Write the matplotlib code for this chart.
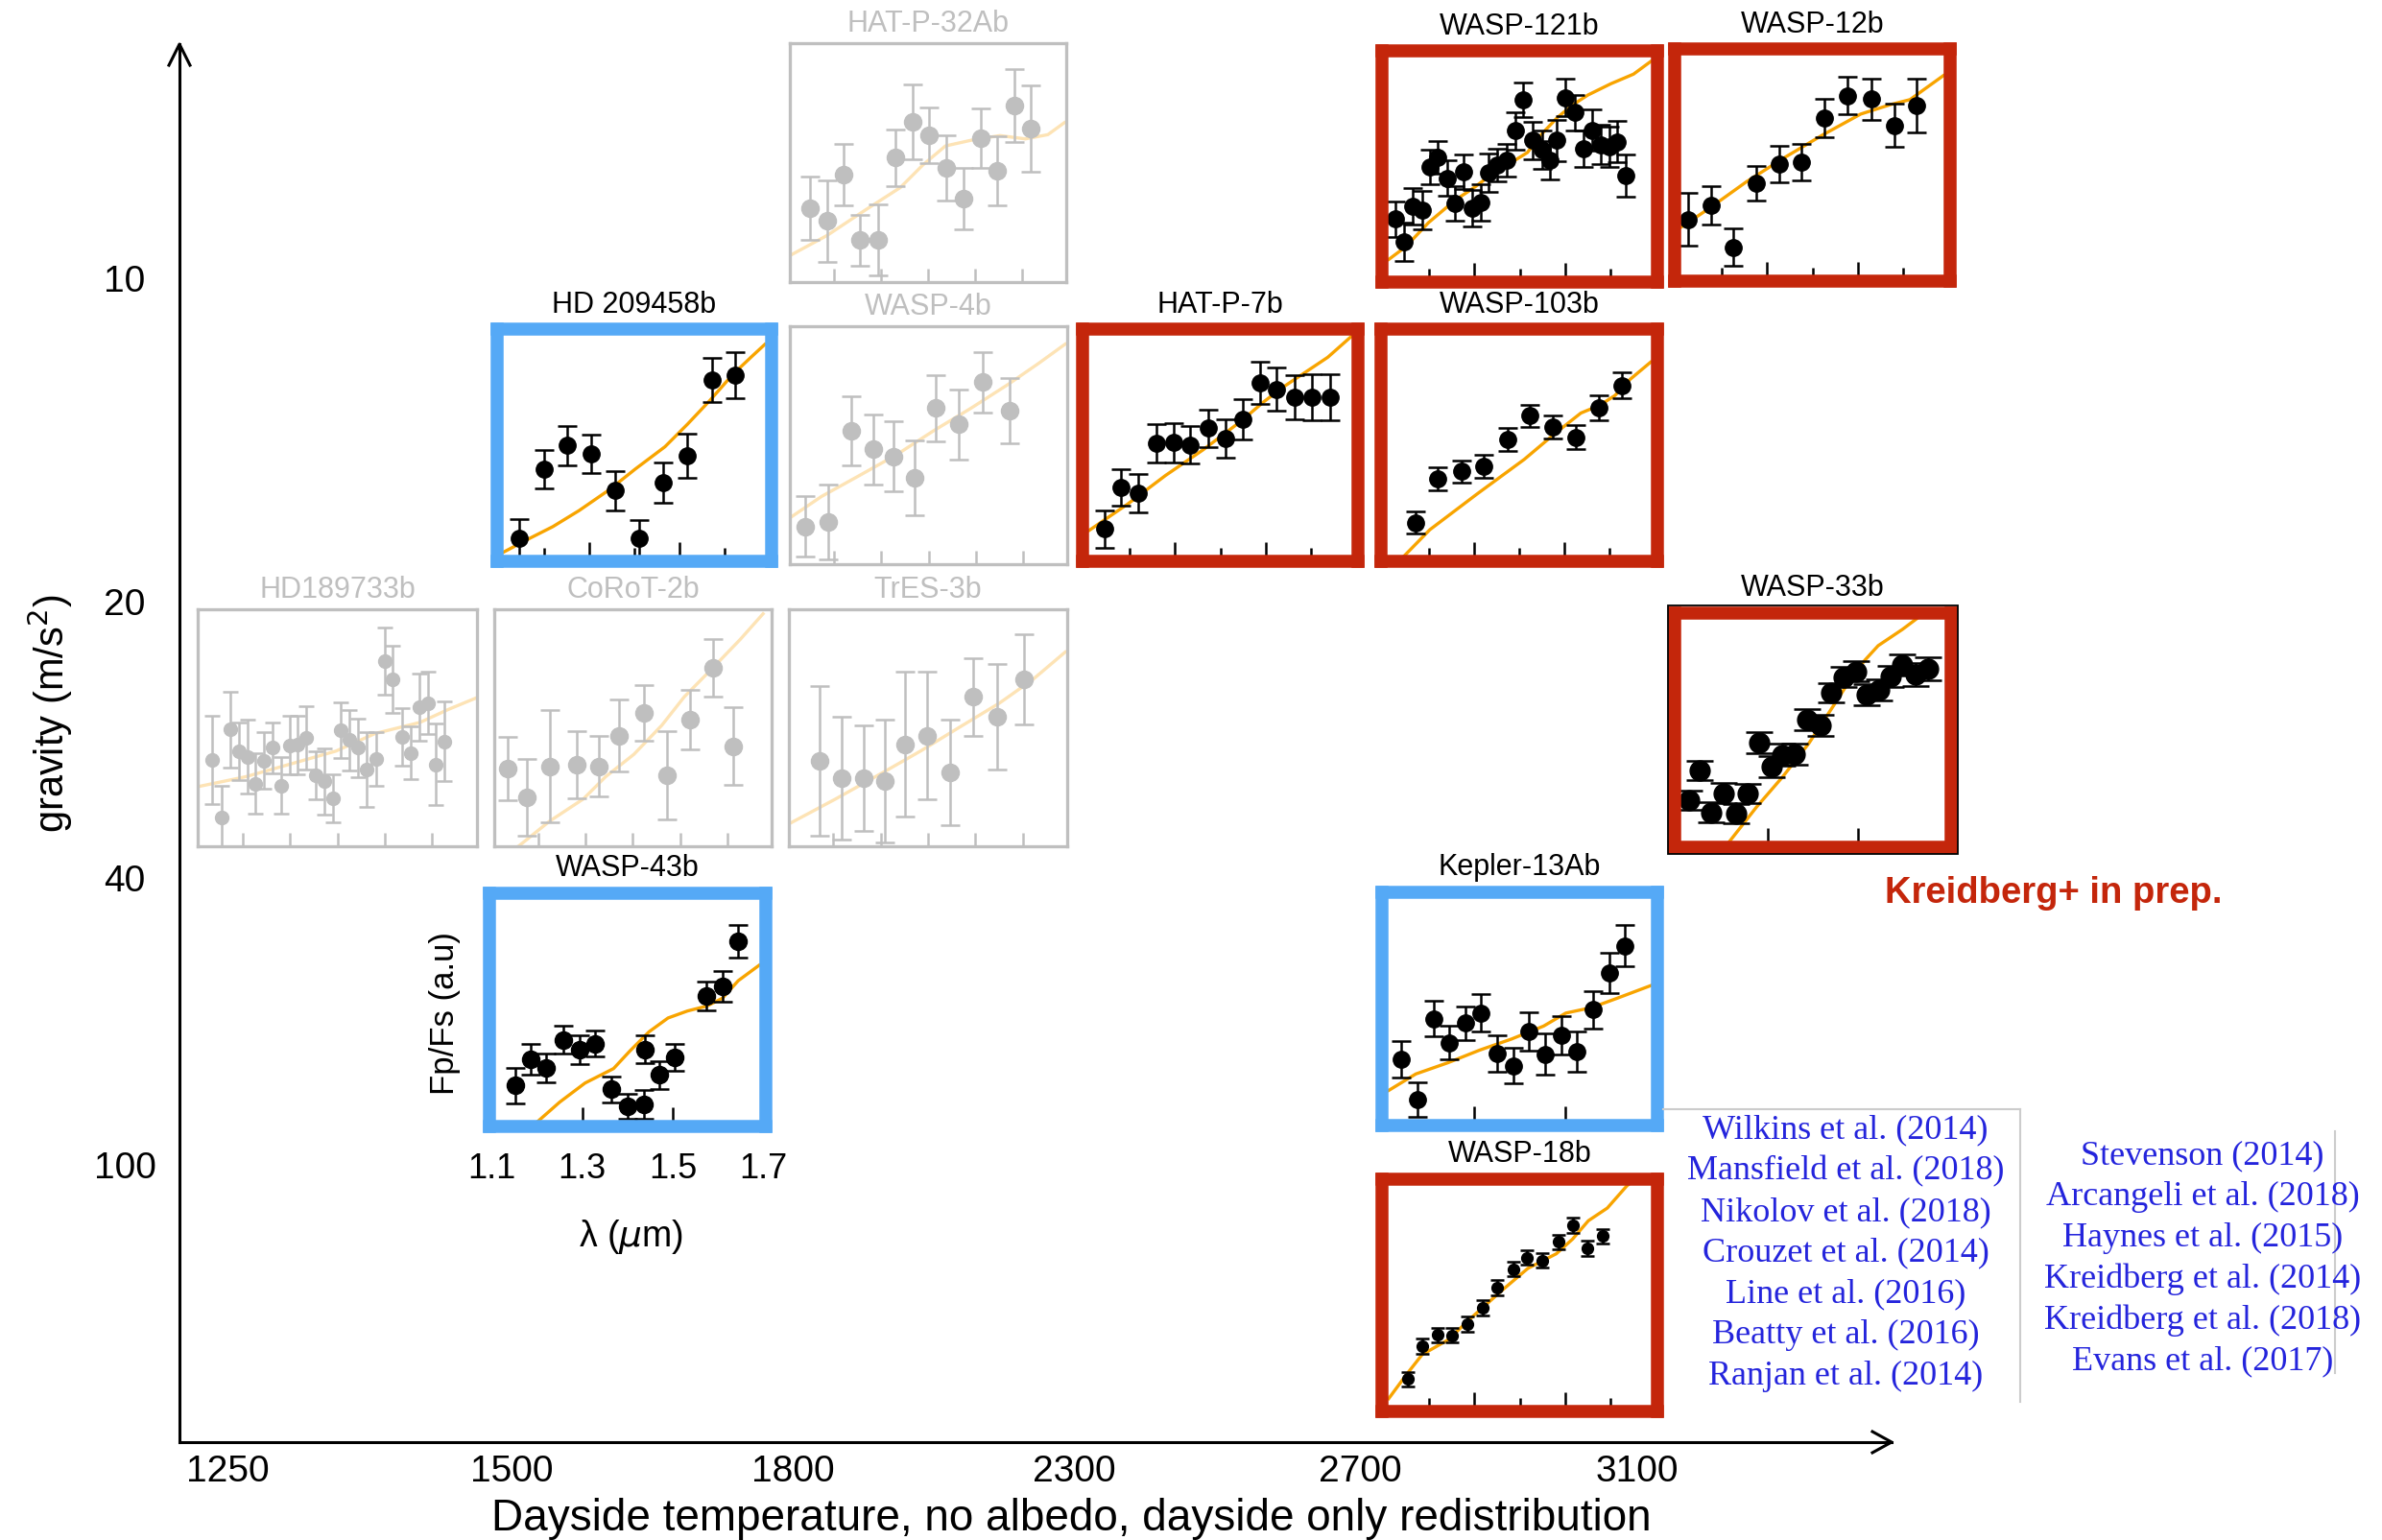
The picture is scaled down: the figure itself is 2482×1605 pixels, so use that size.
import matplotlib
matplotlib.use('Agg')
import matplotlib.pyplot as plt
from matplotlib import font_manager
from matplotlib.lines import Line2D
from matplotlib.patches import Rectangle

plt.rcParams['font.family'] = ['Liberation Sans', 'DejaVu Sans']
_names = {f.name for f in font_manager.fontManager.ttflist}
HAS_NARROW = 'Liberation Sans Narrow' in _names
NARROW = 'Liberation Sans Narrow' if HAS_NARROW else 'Liberation Sans'

# ---- main axes values ----
temps = [1250, 1500, 1800, 2300, 2700, 3100]
gravities = [10, 20, 40, 100]

# ---- panel data: wavelength (um), relative Fp/Fs (0-100 of panel), errors; model curve ----
hatp32_wl = [1.149, 1.185, 1.221, 1.256, 1.294, 1.330, 1.367, 1.403, 1.438, 1.476, 1.512, 1.548, 1.583, 1.619]
hatp32_fp = [30.6, 25.2, 44.9, 17.0, 17.3, 52.1, 67.3, 61.5, 47.9, 34.7, 60.5, 46.6, 74.4, 64.6]
hatp32_err = [13.6, 17.4, 13.2, 10.9, 15.1, 12.0, 16.0, 11.8, 13.9, 12.9, 12.6, 14.7, 15.6, 18.4]
hatp32_mwl = [1.11, 1.185, 1.267, 1.341, 1.389, 1.437, 1.498, 1.553, 1.607, 1.655, 1.69]
hatp32_mfp = [10.9, 19.0, 29.9, 39.4, 49.0, 57.1, 59.8, 61.5, 60.1, 61.9, 67.0]

wasp121_wl = [1.124, 1.145, 1.163, 1.184, 1.201, 1.219, 1.239, 1.257, 1.276, 1.295, 1.314, 1.331, 1.350, 1.371,
              1.390, 1.408, 1.428, 1.449, 1.466, 1.482, 1.501, 1.522, 1.541, 1.560, 1.579, 1.598, 1.616, 1.635]
wasp121_fp = [25.9, 15.4, 31.8, 30.1, 49.8, 54.2, 44.7, 33.0, 47.6, 30.8, 33.4, 47.2, 50.6, 52.8,
              66.3, 80.6, 61.9, 57.9, 52.8, 61.9, 81.7, 74.8, 58.3, 66.7, 60.1, 59.1, 61.3, 45.9]
wasp121_err = [8.1, 8.8, 8.4, 8.8, 8.1, 7.3, 8.1, 8.1, 8.1, 8.5, 8.4, 8.8, 7.6, 7.6,
               8.4, 7.8, 8.8, 8.8, 8.8, 9.5, 8.4, 8.1, 8.4, 9.5, 9.2, 9.1, 9.5, 9.8]
wasp121_mwl = [1.11, 1.148, 1.198, 1.257, 1.299, 1.341, 1.383, 1.417, 1.450, 1.484, 1.518, 1.551, 1.602, 1.652, 1.69]
wasp121_mfp = [7.3, 13.2, 24.2, 34.5, 40.3, 46.9, 52.0, 56.4, 65.2, 72.6, 78.4, 82.8, 88.0, 92.4, 98.2]

wasp12_wl = [1.124, 1.175, 1.225, 1.276, 1.326, 1.376, 1.427, 1.477, 1.530, 1.581, 1.631]
wasp12_fp = [25.2, 31.5, 12.5, 41.8, 50.3, 51.3, 71.4, 81.7, 80.2, 68.2, 77.3]
wasp12_err = [12.2, 8.8, 8.4, 7.9, 8.4, 8.5, 8.8, 8.5, 9.4, 9.8, 12.2]
wasp12_mwl = [1.11, 1.171, 1.255, 1.339, 1.423, 1.507, 1.574, 1.616, 1.69]
wasp12_mfp = [21.7, 30.1, 42.5, 53.5, 63.8, 73.3, 77.7, 79.9, 90.9]

hd209_wl = [1.145, 1.199, 1.251, 1.304, 1.358, 1.410, 1.464, 1.518, 1.572, 1.624]
hd209_fp = [7.4, 39.1, 49.8, 46.1, 29.2, 7.4, 32.9, 45.0, 80.0, 82.2]
hd209_err = [8.8, 8.8, 8.9, 8.8, 8.9, 8.6, 9.1, 10.1, 10.1, 10.5]
hd209_mwl = [1.11, 1.17, 1.219, 1.277, 1.344, 1.402, 1.468, 1.518, 1.568, 1.618, 1.659, 1.69]
hd209_mfp = [1.2, 7.7, 12.8, 20.1, 29.6, 39.1, 49.3, 59.6, 70.5, 82.2, 90.2, 96.1]

wasp4_wl = [1.138, 1.188, 1.237, 1.282, 1.326, 1.370, 1.416, 1.465, 1.515, 1.571]
wasp4_fp = [15.3, 17.1, 56.2, 48.2, 45.2, 36.0, 65.8, 58.9, 77.0, 64.8]
wasp4_err = [13.0, 15.9, 14.8, 14.9, 14.9, 15.9, 14.0, 14.9, 12.9, 13.8]
wasp4_mwl = [1.11, 1.173, 1.253, 1.332, 1.411, 1.490, 1.569, 1.633, 1.69]
wasp4_mfp = [19.5, 28.1, 37.0, 45.9, 56.2, 65.8, 76.0, 84.9, 93.2]

hatp7_wl = [1.143, 1.181, 1.219, 1.258, 1.296, 1.334, 1.373, 1.411, 1.450, 1.488, 1.525, 1.565, 1.603, 1.643]
hatp7_fp = [11.7, 30.7, 28.2, 50.8, 51.1, 50.1, 57.7, 53.0, 61.8, 78.5, 75.6, 72.0, 72.0, 72.0]
hatp7_err = [8.6, 8.5, 8.8, 8.8, 8.8, 8.6, 8.6, 8.8, 9.1, 9.8, 9.8, 10.2, 10.5, 10.5]
hatp7_mwl = [1.11, 1.195, 1.279, 1.362, 1.446, 1.496, 1.538, 1.580, 1.638, 1.69]
hatp7_mfp = [11.1, 23.1, 36.2, 47.9, 61.0, 69.8, 76.4, 82.2, 90.2, 99.7]

wasp103_wl = [1.172, 1.221, 1.272, 1.322, 1.374, 1.424, 1.475, 1.525, 1.575, 1.626]
wasp103_fp = [14.6, 34.7, 38.1, 40.3, 52.6, 63.5, 58.4, 53.7, 66.9, 77.4]
wasp103_err = [5.1, 5.1, 5.1, 5.1, 5.3, 5.1, 5.3, 5.4, 5.7, 6.0]
wasp103_mwl = [1.135, 1.203, 1.307, 1.411, 1.478, 1.536, 1.578, 1.611, 1.644, 1.69]
wasp103_mfp = [-3.0, 11.4, 27.7, 43.5, 55.2, 64.7, 68.3, 72.7, 80.0, 88.0]

hd189_wl = [1.136, 1.156, 1.174, 1.193, 1.211, 1.228, 1.246, 1.264, 1.282, 1.299, 1.317, 1.335, 1.355, 1.373,
            1.391, 1.408, 1.426, 1.444, 1.462, 1.482, 1.500, 1.517, 1.536, 1.554, 1.572, 1.590, 1.608, 1.626]
hd189_fp = [36.2, 11.5, 49.3, 40.0, 37.5, 26.0, 35.9, 41.4, 25.3, 42.5, 42.7, 45.5, 29.7, 27.0,
            19.7, 48.9, 44.8, 41.4, 32.1, 36.6, 78.4, 70.8, 46.2, 39.3, 58.9, 60.6, 34.3, 44.1]
hd189_err = [18.8, 13.7, 16.2, 12.3, 15.8, 13.0, 12.2, 10.8, 12.1, 12.5, 12.5, 13.6, 10.3, 14.2,
             10.3, 11.8, 13.0, 12.7, 16.2, 11.6, 14.4, 14.4, 12.3, 11.5, 14.4, 13.3, 17.5, 17.1]
hd189_mwl = [1.11, 1.207, 1.302, 1.397, 1.479, 1.574, 1.633, 1.69]
hd189_mfp = [24.9, 29.0, 34.5, 40.0, 47.5, 52.3, 57.8, 62.6]

corot2_wl = [1.134, 1.176, 1.223, 1.280, 1.327, 1.370, 1.423, 1.473, 1.521, 1.569, 1.613]
corot2_fp = [32.5, 20.1, 33.4, 34.3, 33.4, 46.6, 56.4, 29.7, 53.4, 75.6, 42.1]
corot2_err = [13.4, 16.4, 24.1, 14.4, 13.0, 15.5, 11.9, 18.9, 12.7, 12.3, 16.6]
corot2_mwl = [1.15, 1.223, 1.295, 1.342, 1.402, 1.461, 1.509, 1.569, 1.628, 1.676]
corot2_mfp = [-2.0, 9.9, 19.5, 29.0, 38.6, 51.0, 63.3, 75.6, 88.0, 98.9]

tres3_wl = [1.170, 1.217, 1.265, 1.309, 1.352, 1.398, 1.446, 1.495, 1.547, 1.602]
tres3_fp = [35.9, 28.4, 28.4, 27.0, 43.0, 46.6, 30.8, 63.3, 54.8, 70.8]
tres3_err = [32.1, 26.2, 22.6, 26.3, 31.0, 27.4, 22.7, 16.6, 22.6, 19.2]
tres3_mwl = [1.11, 1.205, 1.301, 1.384, 1.467, 1.551, 1.622, 1.69]
tres3_mfp = [9.2, 19.5, 30.4, 40.0, 50.3, 60.6, 70.8, 82.5]

wasp33_wl = [1.127, 1.150, 1.176, 1.203, 1.230, 1.255, 1.282, 1.308, 1.333, 1.359, 1.387,
             1.416, 1.440, 1.467, 1.496, 1.519, 1.546, 1.571, 1.597, 1.626, 1.653]
wasp33_fp = [18.3, 31.7, 12.8, 21.5, 12.1, 21.2, 44.3, 33.4, 38.9, 39.2, 54.9,
             52.0, 66.8, 74.1, 76.7, 66.1, 68.3, 74.5, 79.6, 75.3, 77.9]
wasp33_err = [4.4, 4.4, 4.4, 4.4, 4.4, 4.4, 4.8, 4.8, 4.8, 4.8, 4.8,
              4.8, 4.4, 4.4, 4.4, 4.8, 4.8, 4.8, 4.8, 5.1, 5.1]
wasp33_mwl = [1.21, 1.275, 1.333, 1.391, 1.449, 1.490, 1.515, 1.544, 1.597, 1.645]
wasp33_mfp = [-2.0, 15.0, 28.8, 44.0, 62.2, 75.3, 81.8, 88.3, 95.6, 103.0]

wasp43_wl = [1.152, 1.186, 1.221, 1.258, 1.294, 1.327, 1.364, 1.400, 1.435, 1.439, 1.470, 1.503, 1.574, 1.609, 1.644]
wasp43_fp = [15.6, 27.4, 23.7, 36.4, 32.0, 34.7, 13.8, 6.1, 7.0, 32.0, 20.4, 28.4, 56.5, 60.7, 81.1]
wasp43_err = [8.0, 7.0, 6.6, 6.3, 6.6, 6.0, 6.0, 5.5, 6.6, 6.3, 6.4, 6.1, 6.6, 7.0, 7.4]
wasp43_mwl = [1.195, 1.250, 1.306, 1.369, 1.405, 1.447, 1.489, 1.532, 1.574, 1.609, 1.644, 1.69]
wasp43_mfp = [-2.0, 8.0, 16.7, 23.3, 31.3, 40.0, 46.3, 49.5, 51.7, 55.3, 63.3, 70.3]

kep13_wl = [1.137, 1.174, 1.209, 1.244, 1.280, 1.315, 1.350, 1.386, 1.421, 1.456, 1.492, 1.527, 1.562, 1.598, 1.633]
kep13_fp = [27.1, 8.7, 45.6, 34.7, 43.6, 48.1, 29.6, 24.1, 39.7, 29.3, 38.0, 30.5, 49.7, 66.5, 78.7]
kep13_err = [8.4, 7.9, 8.0, 7.7, 7.7, 8.5, 8.2, 8.0, 8.7, 9.4, 8.9, 9.2, 8.5, 9.2, 9.4]
kep13_mwl = [1.11, 1.170, 1.241, 1.312, 1.382, 1.453, 1.502, 1.559, 1.615, 1.69]
kep13_mfp = [12.9, 20.4, 25.5, 31.3, 36.3, 42.2, 48.1, 50.6, 54.8, 60.6]

wasp18_wl = [1.152, 1.184, 1.218, 1.251, 1.285, 1.319, 1.350, 1.386, 1.416, 1.449, 1.485, 1.517, 1.550, 1.584]
wasp18_fp = [11.7, 26.8, 31.8, 31.7, 36.9, 44.4, 53.6, 62.0, 67.3, 66.0, 74.4, 82.1, 71.5, 77.0]
wasp18_err = [3.4, 3.4, 3.4, 3.4, 3.4, 3.4, 3.4, 3.4, 3.4, 3.4, 3.4, 3.4, 3.4, 3.4]
wasp18_mwl = [1.11, 1.149, 1.184, 1.241, 1.297, 1.361, 1.418, 1.481, 1.517, 1.552, 1.594, 1.637, 1.66]
wasp18_mfp = [2.8, 13.7, 22.9, 29.6, 40.5, 52.3, 62.3, 69.0, 75.7, 84.1, 89.9, 100.0, 104.0]

cites_left = ['Wilkins et al. (2014)', 'Mansfield et al. (2018)', 'Nikolov et al. (2018)',
              'Crouzet et al. (2014)', 'Line et al. (2016)', 'Beatty et al. (2016)', 'Ranjan et al. (2014)']
cites_right = ['Stevenson (2014)', 'Arcangeli et al. (2018)', 'Haynes et al. (2015)',
               'Kreidberg et al. (2014)', 'Kreidberg et al. (2018)', 'Evans et al. (2017)']

# ---- layout helpers (pixel coordinates of the 2482x1606 canvas) ----
W, H = 2482, 1606
PX = 100 / 72.0          # pixels per point
WL0, WL1 = 1.11, 1.69


def fx(px):
    return px / W


def fy(py):
    return 1 - py / H


def rect(x0, y0, x1, y1):
    return [x0 / W, 1 - y1 / H, (x1 - x0) / W, (y1 - y0) / H]


RED = '#c4260b'
BLUE = '#55a9f6'
GRAY = '#bfbfbf'
ORANGE = '#f8a400'
LORANGE = '#fde3b5'

styles = {
    'red':  dict(frame=RED, fw=13.5, pt='black', line=ORANGE, title='black'),
    'blue': dict(frame=BLUE, fw=13.5, pt='black', line=ORANGE, title='black'),
    'gray': dict(frame=GRAY, fw=3.3, pt=GRAY, line=LORANGE, title=GRAY),
}

tick_size = 31 if HAS_NARROW else 28

fig = plt.figure(figsize=(W / 100, H / 100), dpi=100)

# ---- main schematic axes ----
ax = fig.add_axes(rect(187, 47, 1971, 1504))
ax.set_xlim(187, 1971)
ax.set_ylim(1504, 47)
ax.patch.set_alpha(0)
for s in ['top', 'right']:
    ax.spines[s].set_visible(False)
for s in ['left', 'bottom']:
    ax.spines[s].set_linewidth(2.2)
ax.set_xticks([237, 533, 826, 1119, 1417, 1706], [str(t) for t in temps])
ax.set_yticks([290, 627, 915, 1214], [str(g) for g in gravities])
ax.tick_params(axis='x', length=0, pad=9, labelsize=tick_size)
ax.tick_params(axis='y', length=0, pad=41, labelsize=tick_size)
for lab in ax.get_xticklabels() + ax.get_yticklabels():
    lab.set_family(NARROW)
for lab in ax.get_yticklabels():
    lab.set_ha('center')
ax.plot([1951, 1971, 1951], [1493, 1504, 1515], color='k', lw=2.2, clip_on=False)
ax.plot([176, 187, 198], [69, 47, 69], color='k', lw=2.2, clip_on=False)

fig.text(fx(1116), fy(1583), 'Dayside temperature, no albedo, dayside only redistribution',
         ha='center', va='center', size=33)
fig.text(fx(52), fy(744), 'gravity (m/s$^2$)', rotation=90, ha='center', va='center', size=30)


def panel(name, wl, fp, err, mwl, mfp, box, style, minor=True, ms=13.5, cap=7):
    st = styles[style]
    x0, y0, x1, y1 = box
    pad = st['fw'] / 2
    pax = fig.add_axes(rect(x0 - pad, y0 - pad, x1 + pad, y1 + pad))
    sx = (WL1 - WL0) / (x1 - x0)
    sy = 100.0 / (y1 - y0)
    pax.set_xlim(WL0 - pad * sx, WL1 + pad * sx)
    pax.set_ylim(-pad * sy, 100 + pad * sy)
    pax.plot(mwl, mfp, color=st['line'], lw=2.4, zorder=1)
    pax.errorbar(wl, fp, yerr=err, fmt='o', ms=ms, color=st['pt'], ecolor=st['pt'],
                 mec=st['pt'], elinewidth=1.8, capsize=cap, capthick=1.8, zorder=2)
    for sp in pax.spines.values():
        sp.set_color(st['frame'])
        sp.set_linewidth(st['fw'] / PX)
    pax.set_yticks([])
    tick_c = 'black' if style != 'gray' else GRAY
    if style == 'gray':
        pax.set_xticks([1.2, 1.3, 1.4, 1.5, 1.6])
        pax.tick_params(axis='x', which='major', length=(pad + 12) / PX)
    else:
        pax.set_xticks([1.3, 1.5])
        pax.tick_params(axis='x', which='major', length=(pad + 13) / PX)
        if minor:
            pax.set_xticks([1.2, 1.4, 1.6], minor=True)
            pax.tick_params(axis='x', which='minor', length=(pad + 7) / PX)
    pax.tick_params(axis='x', which='both', direction='in', labelbottom=False,
                    color=tick_c, width=1.8)
    fig.text(fx((x0 + x1) / 2), fy(y0 - st['fw'] - 20), name, ha='center', va='center',
             size=22, color=st['title'])
    return pax


panel('HAT-P-32Ab', hatp32_wl, hatp32_fp, hatp32_err, hatp32_mwl, hatp32_mfp,
      (825, 48, 1109, 293), 'gray', ms=13)
panel('WASP-121b', wasp121_wl, wasp121_fp, wasp121_err, wasp121_mwl, wasp121_mfp,
      (1447, 61, 1720, 288), 'red', ms=12.5)
panel('WASP-12b', wasp12_wl, wasp12_fp, wasp12_err, wasp12_mwl, wasp12_mfp,
      (1752, 59, 2025, 287), 'red', ms=12.5)
panel('HD 209458b', hd209_wl, hd209_fp, hd209_err, hd209_mwl, hd209_mfp,
      (525, 351, 797, 579), 'blue', ms=12.5)
panel('WASP-4b', wasp4_wl, wasp4_fp, wasp4_err, wasp4_mwl, wasp4_mfp,
      (825, 343, 1110, 587), 'gray', ms=13)
panel('HAT-P-7b', hatp7_wl, hatp7_fp, hatp7_err, hatp7_mwl, hatp7_mfp,
      (1135, 351, 1408, 579), 'red', ms=12.5)
panel('WASP-103b', wasp103_wl, wasp103_fp, wasp103_err, wasp103_mwl, wasp103_mfp,
      (1446, 351, 1720, 579), 'red', ms=12.5)
panel('HD189733b', hd189_wl, hd189_fp, hd189_err, hd189_mwl, hd189_mfp,
      (208, 638, 495, 881), 'gray', ms=10, cap=6)
panel('CoRoT-2b', corot2_wl, corot2_fp, corot2_err, corot2_mwl, corot2_mfp,
      (517, 638, 802, 881), 'gray', ms=13)
panel('TrES-3b', tres3_wl, tres3_fp, tres3_err, tres3_mwl, tres3_mfp,
      (824, 638, 1110, 881), 'gray', ms=13)
panel('WASP-33b', wasp33_wl, wasp33_fp, wasp33_err, wasp33_mwl, wasp33_mfp,
      (1752, 647, 2026, 877), 'red', minor=False, ms=15, cap=10)
fig.add_artist(Rectangle((fx(1738), fy(891)), (2040 - 1738) / W, (891 - 632) / H,
                         transform=fig.transFigure, fill=False, ec='black', lw=1.3))
wax = panel('WASP-43b', wasp43_wl, wasp43_fp, wasp43_err, wasp43_mwl, wasp43_mfp,
            (517, 939, 791, 1168), 'blue', minor=False, ms=13)
panel('Kepler-13Ab', kep13_wl, kep13_fp, kep13_err, kep13_mwl, kep13_mfp,
      (1447, 938, 1720, 1167), 'blue', minor=False, ms=12.5)
panel('WASP-18b', wasp18_wl, wasp18_fp, wasp18_err, wasp18_mwl, wasp18_mfp,
      (1447, 1237, 1720, 1465), 'red', ms=8.5, cap=5)

# wavelength labels under WASP-43b
ylab = -(1219 - 1174.75) / (1168 - 939 + 13.5)
for w in [1.1, 1.3, 1.5, 1.7]:
    wax.text(w, ylab, '%.1f' % w, transform=wax.get_xaxis_transform(), ha='center', va='center',
             size=tick_size - 2, family=NARROW, clip_on=False)
fig.text(fx(658), fy(1289), 'λ ($\\mu$m)', ha='center', va='center', size=27, family=NARROW)
fig.text(fx(464), fy(1056), 'Fp/Fs (a.u)', rotation=90, ha='center', va='center', size=25)

fig.text(fx(2140), fy(931), 'Kreidberg+ in prep.', ha='center', va='center', size=27.5,
         weight='bold', color=RED)

# citation columns
CITE = '#2424dc'
for i, t in enumerate(cites_left):
    fig.text(fx(1923), fy(1178 + i * 42.7), t, ha='center', va='center', size=26,
             family='Liberation Serif', color=CITE)
for i, t in enumerate(cites_right):
    fig.text(fx(2295), fy(1205 + i * 42.7), t, ha='center', va='center', size=26,
             family='Liberation Serif', color=CITE)
for xs, ys in [((1733, 2105), (1157, 1157)), ((2105, 2105), (1157, 1462)), ((2433, 2433), (1180, 1432))]:
    fig.add_artist(Line2D([fx(v) for v in xs], [fy(v) for v in ys], transform=fig.transFigure,
                          color='#cccccc', lw=1.5))

fig.savefig('out.png', dpi=100)
